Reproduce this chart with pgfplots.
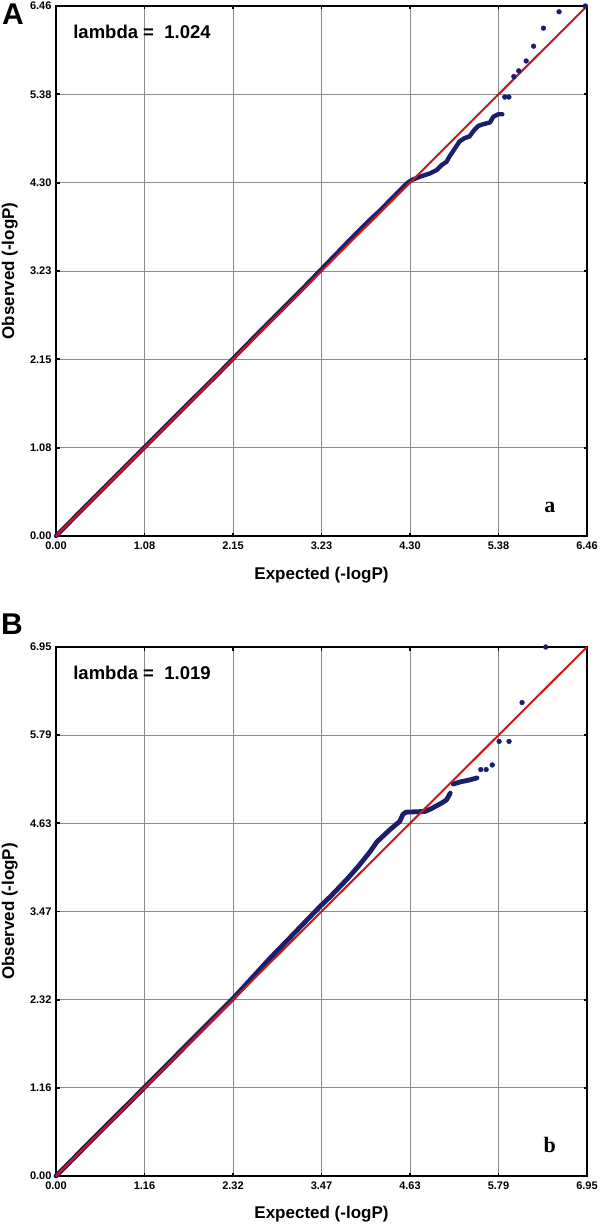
\documentclass[border=0pt]{standalone}
\usepackage{fontspec}
\setmainfont{Liberation Sans}
\newfontfamily\serifb{Liberation Serif}
\usepackage{pgfplots}
\pgfplotsset{compat=1.18}
\definecolor{navy}{RGB}{28,30,108}
\definecolor{qqred}{RGB}{205,22,22}
\definecolor{gridgray}{RGB}{140,140,140}

\pgfplotstableread{
x y
0 0
0.5 0.505
1.0 1.005
1.5 1.505
2.0 2.005
2.5 2.515
3.0 3.015
3.3 3.325
3.6 3.635
3.8 3.835
3.95 3.975
4.1 4.13
4.2 4.23
4.27 4.30
4.33 4.34
4.43 4.38
4.55 4.42
4.63 4.46
4.69 4.52
4.75 4.56
4.79 4.63
4.83 4.69
4.87 4.75
4.91 4.81
4.97 4.85
5.03 4.87
5.09 4.95
5.14 5.00
5.20 5.02
5.28 5.04
5.32 5.11
5.38 5.14
5.43 5.14
}\denseA

\pgfplotstableread{
x y
5.46 5.35
5.51 5.35
5.57 5.60
5.63 5.67
5.72 5.79
5.81 5.97
5.93 6.19
6.12 6.39
6.44 6.46
}\tailA

\pgfplotstableread{
x y
0 0
0.5 0.505
1.0 1.005
1.5 1.51
2.0 2.015
2.32 2.335
2.54 2.575
2.8 2.86
3.1 3.17
3.455 3.54
3.6 3.68
3.80 3.89
3.95 4.06
4.11 4.26
4.20 4.39
4.37 4.55
4.50 4.66
4.54 4.75
4.58 4.78
4.83 4.79
4.90 4.82
5.03 4.89
5.11 4.94
5.16 5.03
}\denseB

\pgfplotstableread{
x y
5.20 5.15
5.30 5.18
5.40 5.20
5.51 5.23
}\segB

\pgfplotstableread{
x y
5.56 5.34
5.63 5.34
5.71 5.40
5.80 5.71
5.93 5.71
6.10 6.22
6.41 6.95
}\tailB

\pgfplotsset{
  qqaxis/.style={
    scale only axis,
    width=531pt,
    clip=false,
    xmin=0, ymin=0,
    grid=major,
    major grid style={gridgray, line width=0.9pt},
    axis line style={black, line width=2.6pt},
    tick align=inside,
    major tick length=3.5pt,
    every tick/.style={black, line width=1.8pt},
    tick label style={font=\fontsize{11}{11}\selectfont\bfseries},
    label style={font=\fontsize{17}{17}\selectfont\bfseries},
    xlabel={Expected (-logP)},
    ylabel={Observed (-logP)},
    xlabel style={at={(axis description cs:0.5,-0.073)}, anchor=center},
    ylabel style={at={(axis description cs:-0.087,0.5)}, anchor=center},
    yticklabel style={xshift=-1pt},
    xticklabel style={yshift=-2pt},
  },
}

\begin{document}
\begin{tikzpicture}
\path[use as bounding box] (0,0) rectangle (600pt,-1226pt);

\begin{axis}[qqaxis,
  at={(56pt,-6pt)}, anchor=north west, height=530pt,
  xmax=6.46, ymax=6.46,
  xtick={0,1.07667,2.15333,3.23,4.30667,5.38333,6.46},
  ytick={0,1.07667,2.15333,3.23,4.30667,5.38333,6.46},
  xticklabels={\textbf{0.00},\textbf{1.08},\textbf{2.15},\textbf{3.23},\textbf{4.30},\textbf{5.38},\textbf{6.46}},
  yticklabels={\textbf{0.00},\textbf{1.08},\textbf{2.15},\textbf{3.23},\textbf{4.30},\textbf{5.38},\textbf{6.46}},
]
\addplot[navy, line width=4.4pt, line join=round, line cap=round] table {\denseA};
\addplot[only marks, mark=*, mark size=2.4pt, navy] table {\tailA};
\addplot[qqred, line width=2pt] coordinates {(0,0) (6.46,6.46)};
\node[anchor=base west, font=\fontsize{18.5}{18.5}\selectfont\bfseries] at (axis description cs:0.026,0.938) {lambda =\ \ 1.024};
\node[anchor=base, font=\fontsize{22}{22}\selectfont\serifb\bfseries] at (axis description cs:0.93,0.045) {a};
\end{axis}

\begin{axis}[qqaxis,
  at={(56pt,-647pt)}, anchor=north west, height=529pt,
  xmax=6.95, ymax=6.95,
  xtick={0,1.15833,2.31667,3.475,4.63333,5.79167,6.95},
  ytick={0,1.15833,2.31667,3.475,4.63333,5.79167,6.95},
  xticklabels={\textbf{0.00},\textbf{1.16},\textbf{2.32},\textbf{3.47},\textbf{4.63},\textbf{5.79},\textbf{6.95}},
  yticklabels={\textbf{0.00},\textbf{1.16},\textbf{2.32},\textbf{3.47},\textbf{4.63},\textbf{5.79},\textbf{6.95}},
]
\addplot[navy, line width=4.8pt, line join=round, line cap=round] table {\denseB};
\addplot[navy, line width=4.8pt, line join=round, line cap=round] table {\segB};
\addplot[only marks, mark=*, mark size=2.4pt, navy] table {\tailB};
\addplot[qqred, line width=2pt] coordinates {(0,0) (6.95,6.95)};
\node[anchor=base west, font=\fontsize{18.5}{18.5}\selectfont\bfseries] at (axis description cs:0.026,0.938) {lambda =\ \ 1.019};
\node[anchor=base, font=\fontsize{22}{22}\selectfont\serifb\bfseries] at (axis description cs:0.93,0.045) {b};
\end{axis}

\node[font=\fontsize{30}{30}\selectfont\bfseries, anchor=center] at (13pt,-14pt) {A};
\node[font=\fontsize{30}{30}\selectfont\bfseries, anchor=center] at (12pt,-624pt) {B};
\end{tikzpicture}
\end{document}
